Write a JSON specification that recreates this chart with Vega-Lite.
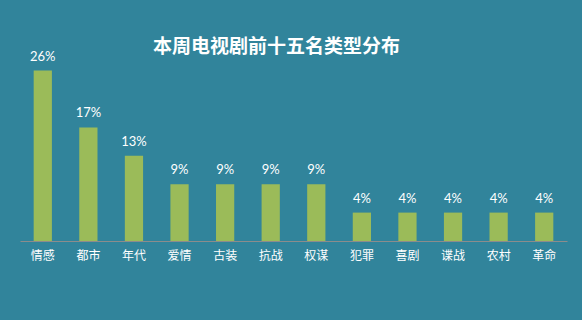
{
  "$schema": "https://vega.github.io/schema/vega-lite/v6.json",
  "width": 547,
  "height": 196,
  "autosize": {"type": "none"},
  "padding": {"left": 20, "top": 45, "right": 15, "bottom": 79},
  "background": "#31849B",
  "title": {
    "text": "本周电视剧前十五名类型分布",
    "color": "#FFFFFF",
    "font": "Noto Sans CJK SC",
    "fontSize": 19,
    "fontWeight": "bold",
    "anchor": "start",
    "frame": "group",
    "dx": 133,
    "offset": -12
  },
  "config": {"view": {"stroke": null}},
  "data": {
    "values": [
      {"type": "情感", "share": 0.26087},
      {"type": "都市", "share": 0.17391},
      {"type": "年代", "share": 0.13043},
      {"type": "爱情", "share": 0.08696},
      {"type": "古装", "share": 0.08696},
      {"type": "抗战", "share": 0.08696},
      {"type": "权谋", "share": 0.08696},
      {"type": "犯罪", "share": 0.04348},
      {"type": "喜剧", "share": 0.04348},
      {"type": "谍战", "share": 0.04348},
      {"type": "农村", "share": 0.04348},
      {"type": "革命", "share": 0.04348}
    ]
  },
  "encoding": {
    "x": {
      "field": "type",
      "type": "nominal",
      "sort": null,
      "scale": {"paddingInner": 0.6, "paddingOuter": 0.3},
      "axis": {
        "title": null,
        "labelAngle": 0,
        "labelColor": "#FFFFFF",
        "labelFont": "Noto Sans CJK SC",
        "labelFontSize": 12,
        "labelPadding": 9,
        "ticks": false,
        "domainColor": "#8C8C8C",
        "domainWidth": 1,
        "grid": false
      }
    },
    "y": {
      "field": "share",
      "type": "quantitative",
      "scale": {"domain": [0, 0.3]},
      "axis": null
    }
  },
  "layer": [
    {"mark": {"type": "bar", "color": "#9BBB59"}},
    {
      "mark": {
        "type": "text",
        "color": "#FFFFFF",
        "font": "Lato",
        "fontSize": 13,
        "baseline": "bottom",
        "dy": -7
      },
      "encoding": {
        "text": {"field": "share", "type": "quantitative", "format": ".0%"}
      }
    }
  ]
}
